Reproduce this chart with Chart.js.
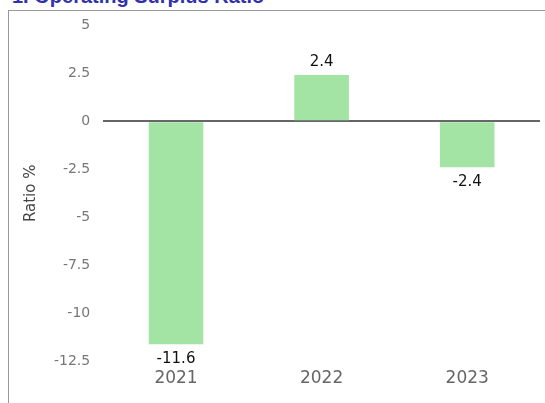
<!DOCTYPE html>
<html>
<head>
<meta charset="utf-8">
<script src="https://cdn.jsdelivr.net/npm/chart.js@4/dist/chart.umd.min.js"></script>
<style>
  html, body { margin: 0; padding: 0; background: #fff; overflow: hidden; }
  body { width: 545px; height: 403px; position: relative; }
  .title {
    position: absolute; left: 12px; top: -15px;
    font: bold 20px "Liberation Sans", Arial, sans-serif; color: #3232a8;
    white-space: nowrap; line-height: 22px;
  }
  .box {
    position: absolute; left: 8px; top: 10px; width: 600px; height: 500px;
    border: 1px solid #999;
  }
  #chart { position: absolute; left: 0; top: 0; }
</style>
</head>
<body>
<div class="title">1. Operating Surplus Ratio</div>
<div class="box"></div>
<canvas id="chart" width="545" height="403"></canvas>
<script>
const years = ['2021', '2022', '2023'];
const ratios = [-11.6, 2.4, -2.4];
const yTicks = [5, 2.5, 0, -2.5, -5, -7.5, -10, -12.5];

// value labels above / below each bar
const barLabels = {
  id: 'barLabels',
  afterDatasetsDraw(chart) {
    const ctx = chart.ctx;
    const meta = chart.getDatasetMeta(0);
    ctx.save();
    ctx.font = '15px "DejaVu Sans", sans-serif';
    ctx.fillStyle = '#111';
    ctx.textAlign = 'center';
    meta.data.forEach((bar, i) => {
      const v = ratios[i];
      if (v >= 0) {
        ctx.textBaseline = 'bottom';
        ctx.fillText(String(v), bar.x, bar.y - 5);
      } else {
        ctx.textBaseline = 'top';
        ctx.fillText(String(v), bar.x, bar.y + 7);
      }
    });
    ctx.restore();
  }
};

new Chart(document.getElementById('chart').getContext('2d'), {
  type: 'bar',
  data: {
    labels: years,
    datasets: [{
      data: ratios,
      backgroundColor: '#a3e3a3',
      borderWidth: 0,
      categoryPercentage: 1,
      barPercentage: 0.375
    }]
  },
  options: {
    responsive: false,
    animation: false,
    layout: { padding: { left: 22, right: 5, top: 25, bottom: 7 } },
    plugins: { legend: { display: false }, tooltip: { enabled: false } },
    scales: {
      x: {
        grid: { display: false, drawTicks: false },
        border: { display: false },
        ticks: { color: '#666', font: { size: 17, family: '"DejaVu Sans", sans-serif' }, padding: 7 }
      },
      y: {
        min: -12.5,
        max: 5,
        afterBuildTicks: s => { s.ticks = yTicks.map(v => ({ value: v })); },
        grid: {
          drawTicks: false,
          lineWidth: 2,
          color: c => c.tick && c.tick.value === 0 ? '#666' : 'rgba(0,0,0,0)'
        },
        border: { display: false },
        ticks: {
          color: '#777',
          font: { size: 14, family: '"DejaVu Sans", sans-serif' },
          padding: 13
        },
        title: {
          display: true,
          text: 'Ratio %',
          color: '#444',
          font: { size: 15, family: '"DejaVu Sans", sans-serif' },
          padding: { top: 0, bottom: 1 }
        }
      }
    }
  },
  plugins: [barLabels]
});
</script>
</body>
</html>
